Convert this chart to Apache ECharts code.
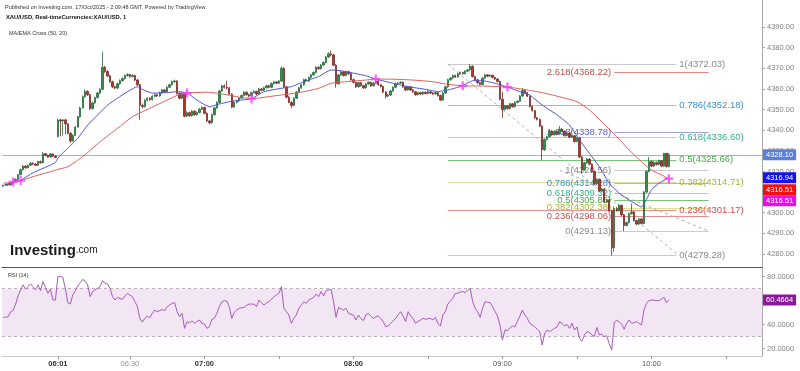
<!DOCTYPE html>
<html>
<head>
<meta charset="utf-8">
<script src="https://cdn.jsdelivr.net/npm/echarts@6.0.0/dist/echarts.min.js"></script>
<style>
  html, body { margin: 0; padding: 0; background: #fff; }
  #chart { width: 800px; height: 371px; }
</style>
</head>
<body>
<div id="chart"></div>
<script>
// XAU/USD 1 min, 05:38 .. 10:07 (no 06:00 bar)
var xLabelTimes = ['06:01', '06:30', '07:00', '08:00', '09:00', '10:00'];
var xTickTimes = ['06:01', '06:30', '07:00', '07:30', '08:00', '08:30', '09:00', '09:30', '10:00', '10:30'];
var boldTimes = ['06:01', '07:00', '08:00'];
var lightTimes = ['06:30'];
var priceTicks = [4280, 4290, 4300, 4310, 4320, 4330, 4340, 4350, 4360, 4370, 4380, 4390];
var rsiTicks = [20, 40, 60, 80];

var lastPrice = 4328.10;
var emaLast = 4316.94;
var maLast = 4316.51;
var rsiLast = 60.4664;

// [open, close, low, high]
var candles = [
  [4312.9,4313.2,4312.6,4313.5],[4313.2,4313.8,4313.0,4314.1],[4313.8,4313.4,4313.0,4314.0],[4313.4,4314.3,4313.2,4314.6],[4314.3,4315.0,4314.0,4315.4],
  [4315.0,4316.2,4314.8,4316.6],[4316.2,4318.4,4316.0,4318.8],[4318.4,4320.8,4318.2,4321.3],[4320.8,4322.6,4320.5,4323.1],[4322.6,4321.8,4321.3,4323.0],
  [4321.8,4323.0,4321.5,4323.4],[4323.0,4324.0,4322.7,4324.5],[4324.0,4323.6,4323.1,4324.4],[4323.6,4323.0,4322.6,4324.0],[4323.0,4324.8,4322.8,4325.2],
  [4324.8,4324.2,4323.8,4325.3],[4324.2,4328.6,4324.0,4329.5],[4328.6,4327.8,4327.3,4329.0],[4327.8,4327.0,4326.6,4328.2],[4327.0,4328.5,4326.8,4329.0],
  [4328.5,4327.4,4327.0,4328.8],[4327.4,4326.8,4326.4,4327.8],[4337.0,4345.0,4336.5,4345.5],[4345.0,4344.5,4337.0,4345.5],[4344.5,4345.0,4337.5,4345.4],
  [4345.0,4343.0,4338.0,4345.5],[4343.0,4338.5,4338.0,4343.4],[4338.5,4334.8,4333.8,4339.0],[4334.8,4337.5,4334.4,4338.0],[4337.5,4341.5,4337.2,4342.0],
  [4341.5,4346.5,4341.2,4347.0],[4346.5,4350.8,4346.0,4351.4],[4350.8,4356.2,4350.5,4356.8],[4356.2,4358.8,4355.8,4359.8],[4358.8,4357.2,4356.6,4359.4],
  [4357.2,4350.5,4349.6,4357.6],[4350.5,4353.2,4350.0,4353.8],[4353.2,4355.8,4352.8,4356.3],[4355.8,4358.0,4355.4,4358.6],[4358.0,4359.8,4357.5,4360.4],
  [4359.8,4370.5,4359.4,4378.0],[4370.5,4368.5,4367.8,4371.2],[4368.5,4366.3,4365.8,4369.0],[4366.3,4363.5,4363.0,4366.8],[4363.5,4361.0,4360.4,4364.0],
  [4361.0,4360.4,4359.8,4361.6],[4360.4,4362.5,4360.0,4363.0],[4362.5,4364.0,4362.0,4364.6],[4364.0,4365.0,4363.6,4365.6],[4365.0,4366.5,4364.6,4367.0],
  [4366.5,4367.0,4366.0,4367.6],[4367.0,4366.0,4365.5,4367.4],[4366.0,4366.5,4365.6,4367.2],[4366.5,4364.3,4363.8,4366.9],[4364.3,4362.0,4361.4,4364.8],
  [4362.0,4352.0,4345.0,4362.4],[4352.0,4351.5,4350.6,4353.0],[4351.5,4354.5,4351.0,4355.0],[4354.5,4355.5,4354.0,4356.0],[4355.5,4354.8,4354.2,4356.0],
  [4354.8,4356.5,4354.4,4357.0],[4356.5,4357.2,4356.0,4357.8],[4357.2,4356.6,4356.1,4357.6],[4356.6,4358.2,4356.2,4358.7],[4358.2,4359.5,4357.8,4360.0],
  [4359.5,4358.6,4358.1,4360.0],[4358.6,4360.8,4358.3,4361.3],[4360.8,4362.0,4360.4,4362.6],[4362.0,4363.5,4361.6,4364.0],[4363.5,4363.8,4363.0,4364.5],
  [4363.8,4357.8,4357.3,4364.2],[4357.8,4355.5,4355.0,4358.3],[4355.5,4358.0,4355.0,4358.6],[4358.0,4346.8,4346.2,4358.4],[4346.8,4348.5,4346.4,4349.2],
  [4348.5,4347.0,4346.5,4349.0],[4347.0,4349.2,4346.6,4349.8],[4349.2,4347.5,4347.0,4349.6],[4347.5,4348.6,4347.1,4349.1],[4348.6,4350.2,4348.2,4350.8],
  [4350.2,4351.0,4349.8,4351.6],[4351.0,4348.2,4347.7,4351.4],[4348.2,4344.5,4344.0,4348.6],[4344.5,4343.6,4342.8,4345.0],[4343.6,4347.5,4343.2,4348.0],
  [4347.5,4350.8,4347.1,4351.3],[4350.8,4353.4,4350.4,4354.0],[4353.4,4359.0,4353.0,4359.6],[4359.0,4361.5,4358.6,4362.0],[4361.5,4360.8,4360.2,4362.2],
  [4360.8,4360.5,4359.8,4364.0],[4360.5,4357.5,4357.0,4361.0],[4357.5,4351.2,4350.6,4357.9],[4351.2,4353.5,4350.8,4354.0],[4353.5,4354.2,4353.0,4354.8],
  [4354.2,4355.5,4353.8,4356.0],[4355.5,4356.8,4355.1,4357.3],[4356.8,4358.4,4356.4,4358.9],[4358.4,4357.2,4356.7,4358.8],[4357.2,4356.6,4356.0,4357.7],
  [4356.6,4358.2,4356.2,4358.7],[4358.2,4358.8,4357.8,4359.4],[4358.8,4357.5,4357.0,4359.2],[4357.5,4360.0,4357.2,4360.5],[4360.0,4359.4,4358.9,4360.4],
  [4359.4,4360.6,4359.0,4361.1],[4360.6,4361.5,4360.2,4362.0],[4361.5,4360.8,4360.3,4362.0],[4360.8,4362.6,4360.4,4363.1],[4362.6,4363.4,4362.2,4363.9],
  [4363.4,4362.8,4362.3,4363.8],[4362.8,4363.8,4362.4,4364.3],[4363.8,4370.0,4363.4,4370.8],[4370.0,4361.0,4360.5,4370.4],[4361.0,4356.0,4355.5,4361.4],
  [4356.0,4353.5,4353.0,4356.5],[4353.5,4352.0,4350.6,4354.0],[4352.0,4355.5,4351.6,4356.0],[4355.5,4358.5,4355.1,4359.0],[4358.5,4360.5,4358.1,4361.0],
  [4360.5,4362.0,4360.1,4362.5],[4362.0,4364.5,4361.6,4365.0],[4364.5,4363.8,4363.3,4365.0],[4363.8,4365.5,4363.4,4366.0],[4365.5,4366.8,4365.1,4367.3],
  [4366.8,4368.0,4366.4,4368.5],[4368.0,4370.5,4367.6,4371.0],[4370.5,4369.8,4369.3,4371.0],[4369.8,4371.6,4369.4,4372.1],[4371.6,4372.8,4371.2,4373.4],
  [4372.8,4375.5,4372.4,4376.0],[4375.5,4377.0,4375.0,4377.8],[4377.0,4376.5,4375.8,4378.5],[4376.5,4371.5,4371.0,4377.0],[4371.5,4362.5,4360.6,4372.0],
  [4362.5,4366.8,4362.0,4367.3],[4366.8,4368.2,4366.3,4368.8],[4368.2,4366.5,4366.0,4368.6],[4366.5,4368.3,4366.1,4368.8],[4368.3,4367.4,4366.8,4368.8],
  [4367.4,4364.5,4364.0,4367.8],[4364.5,4363.2,4362.7,4365.0],[4363.2,4361.0,4360.4,4363.6],[4361.0,4363.0,4360.6,4363.5],[4363.0,4361.6,4361.1,4363.4],
  [4361.6,4360.5,4360.0,4362.0],[4360.5,4362.4,4360.1,4362.9],[4362.4,4363.2,4362.0,4363.7],[4363.2,4361.5,4361.0,4363.6],[4361.5,4362.8,4361.1,4363.3],
  [4362.8,4363.8,4362.4,4364.4],[4363.8,4362.0,4361.5,4364.2],[4362.0,4361.2,4360.7,4362.5],[4361.2,4358.5,4358.0,4361.6],[4358.5,4356.5,4355.4,4358.9],
  [4356.5,4357.0,4356.0,4357.6],[4357.0,4359.0,4356.6,4359.5],[4359.0,4360.8,4358.6,4361.3],[4360.8,4362.5,4360.4,4363.0],[4362.5,4362.8,4362.0,4363.4],
  [4362.8,4363.2,4362.4,4363.8],[4363.2,4361.0,4360.5,4363.6],[4361.0,4359.5,4359.0,4361.4],[4359.5,4361.0,4359.1,4361.5],[4361.0,4359.5,4359.0,4361.4],
  [4359.5,4358.6,4358.1,4360.0],[4358.6,4357.2,4356.7,4359.0],[4357.2,4358.2,4356.8,4358.7],[4358.2,4357.5,4357.0,4358.6],[4357.5,4358.4,4357.1,4358.9],
  [4358.4,4357.8,4357.3,4358.8],[4357.8,4358.6,4357.4,4360.0],[4358.6,4358.0,4357.5,4359.0],[4358.0,4357.6,4357.1,4358.4],[4357.6,4358.2,4357.2,4358.7],
  [4358.2,4356.8,4356.3,4358.6],[4356.8,4354.6,4354.1,4357.2],[4354.6,4358.0,4354.2,4358.5],[4358.0,4361.0,4357.6,4361.5],[4361.0,4364.4,4360.6,4364.9],
  [4364.4,4365.3,4364.0,4365.8],[4365.3,4366.5,4364.9,4367.0],[4366.5,4365.8,4365.3,4366.9],[4365.8,4367.2,4365.4,4367.7],[4367.2,4368.0,4366.8,4368.5],
  [4368.0,4367.4,4366.9,4368.4],[4367.4,4368.6,4367.0,4369.1],[4368.6,4369.2,4368.2,4369.7],[4369.2,4371.0,4368.8,4372.0],[4371.0,4366.0,4365.5,4371.4],
  [4366.0,4364.4,4363.9,4366.4],[4364.4,4363.0,4362.5,4364.8],[4363.0,4362.2,4361.7,4363.4],[4362.2,4365.2,4361.8,4365.7],[4365.2,4366.8,4364.8,4367.3],
  [4366.8,4366.2,4365.7,4367.2],[4366.2,4366.6,4365.8,4367.1],[4366.6,4365.6,4365.1,4367.0],[4365.6,4364.8,4364.3,4366.0],[4364.8,4363.6,4363.1,4365.2],
  [4363.6,4355.0,4354.5,4364.0],[4355.0,4350.0,4346.0,4358.6],[4350.0,4351.8,4349.6,4352.3],[4351.8,4350.5,4350.0,4352.2],[4350.5,4352.8,4350.1,4353.3],
  [4352.8,4351.4,4350.9,4353.2],[4351.4,4353.5,4351.0,4354.0],[4353.5,4354.0,4353.0,4354.5],[4354.0,4356.6,4353.6,4357.1],[4356.6,4359.2,4356.2,4360.5],
  [4359.2,4358.2,4357.7,4359.6],[4358.2,4356.5,4356.0,4358.6],[4356.5,4351.5,4351.0,4356.9],[4351.5,4349.5,4349.0,4351.9],[4349.5,4346.0,4345.5,4349.9],
  [4346.0,4345.2,4344.7,4346.5],[4345.2,4342.0,4341.5,4345.6],[4342.0,4330.5,4325.6,4342.4],[4330.5,4335.5,4330.0,4336.0],[4335.5,4336.8,4335.0,4337.3],
  [4336.8,4339.6,4336.4,4340.1],[4339.6,4337.8,4337.3,4340.0],[4337.8,4339.4,4337.4,4339.9],[4339.4,4338.2,4337.7,4339.8],[4338.2,4340.5,4337.8,4342.0],
  [4340.5,4339.5,4339.0,4341.0],[4339.5,4337.4,4336.9,4339.9],[4337.4,4338.6,4337.0,4339.1],[4338.6,4336.6,4336.1,4339.0],[4336.6,4337.3,4336.2,4337.8],
  [4337.3,4334.5,4334.0,4337.7],[4334.5,4336.2,4334.1,4336.7],[4336.2,4327.0,4326.5,4336.6],[4327.0,4320.8,4318.9,4327.4],[4320.8,4324.2,4320.4,4324.7],
  [4324.2,4326.0,4323.8,4326.5],[4326.0,4323.5,4323.0,4326.4],[4323.5,4320.0,4319.5,4323.9],[4320.0,4314.0,4313.5,4320.4],[4314.0,4316.2,4313.6,4316.7],
  [4316.2,4310.5,4310.0,4316.6],[4310.5,4311.5,4310.1,4312.0],[4311.5,4305.2,4304.7,4311.9],[4305.2,4306.3,4304.8,4306.8],[4306.3,4301.0,4300.5,4306.7],
  [4301.0,4283.0,4279.3,4301.4],[4283.0,4302.0,4281.0,4303.0],[4302.0,4301.0,4300.5,4302.8],[4301.0,4303.6,4300.6,4304.1],[4303.6,4299.0,4298.5,4304.0],
  [4299.0,4293.8,4291.1,4299.4],[4293.8,4295.2,4293.4,4295.7],[4295.2,4299.5,4294.8,4300.0],[4299.5,4300.4,4299.1,4304.5],[4300.4,4296.2,4295.7,4300.8],
  [4296.2,4294.5,4294.0,4296.6],[4294.5,4297.0,4294.1,4297.5],[4297.0,4294.8,4294.3,4297.4],[4294.8,4310.0,4294.4,4310.5],[4310.0,4320.0,4309.6,4320.5],
  [4320.0,4324.8,4319.6,4327.0],[4324.8,4322.6,4322.1,4325.2],[4322.6,4324.4,4322.2,4324.9],[4324.4,4323.4,4322.9,4324.8],[4323.4,4325.2,4323.0,4325.7],
  [4325.2,4322.6,4322.1,4325.6],[4322.6,4328.8,4322.2,4328.9],[4328.8,4322.4,4321.9,4329.0],[4322.4,4328.1,4322.0,4328.9]
];

// [bar index, value]
var emaPoints = [
  [0,4313.3],[3,4314.4],[4,4314.9],[7,4315.7],[12,4319.4],[19,4323.1],[21,4324.4],[22,4326.4],[24,4329],[26,4331.2],
  [30,4336.1],[34,4342.5],[38,4347.4],[42,4352.2],[46,4355.5],[50,4358.7],[54,4361.1],[56,4359.8],[60,4358],[66,4358.2],
  [70,4358.7],[74,4358],[79,4353.8],[83,4351.4],[87,4352.7],[91,4353.8],[95,4354.5],[100,4355.3],[105,4358.7],[112,4360.3],
  [116,4361.1],[121,4363.5],[127,4366],[132,4369.2],[136,4368.8],[140,4367.9],[146,4366.4],[150,4364.8],[157,4362.7],[163,4361.1],
  [170,4359.8],[175,4358.7],[180,4359.8],[185,4361.5],[189,4364],[193,4364],[199,4362.4],[203,4360.9],[208,4358.7],[212,4357],
  [217,4352.2],[223,4347.4],[228,4342.5],[232,4335.3],[236,4328.8],[240,4322.3],[244,4314.3],[248,4309.4],[252,4306.2],[257,4302.8],
  [259,4306.5],[261,4311.2],[264,4314.3],[268,4316.94]
];
var maPoints = [
  [0,4314.3],[4,4314.9],[7,4315.6],[12,4317.5],[19,4319.9],[22,4321],[26,4322.3],[32,4327.2],[39,4334.4],[46,4340.9],
  [52,4346.5],[59,4350.6],[66,4354.6],[71,4357.4],[74,4358],[82,4358.4],[90,4357.2],[95,4356],[100,4355.3],[109,4356.6],
  [119,4358.2],[127,4360.3],[132,4362.7],[138,4363.5],[146,4364.3],[150,4364.8],[157,4364.7],[165,4364.3],[173,4363.5],[178,4362.4],
  [185,4361.5],[193,4361.4],[203,4360.9],[211,4359.5],[217,4358.2],[224,4356.2],[231,4353.8],[236,4349.8],[241,4344.1],[247,4336.9],
  [252,4330.4],[257,4324.7],[261,4320.7],[265,4318.3],[268,4316.51]
];
var crossPoints = [[4,4314.9],[7,4315.6],[74,4358],[100,4355.3],[150,4364.8],[185,4361.5],[203,4360.9],[268,4316.51]];

var rsiValues = [
  46,46,46.5,50.7,52,57,64,69,73,69.3,
  71.5,73.8,71.5,68.8,73,68.2,75.7,71,66,69.3,
  60.4,60.4,79.9,79.9,79.3,70,58.2,57,64.6,68,
  72,74.9,77.6,76,72.9,63.2,67.4,69,70.1,71.5,
  76.5,74.3,73.8,70,63.2,60.4,62.6,61.5,61,63.8,
  66,64.5,63.2,59,55,45.1,42,45.1,47,45.5,
  49.3,52,50.7,51.5,52.5,51.5,54.9,56.3,57.6,58.2,
  50.7,46.5,49.3,36.8,42.4,41.2,43,41,42.5,43.75,
  41,40.4,36.8,38,44.3,45.1,49.3,54.9,59,59.9,
  59.5,54.9,45.1,50,52,53.5,54,54.3,56,57,
  57,57,54.9,60.4,58,56.3,58,59,61,63.2,
  64.5,66,71.5,53.5,50.7,47.9,41,45,47.9,53.5,
  56,59,57.6,60.4,61.5,62.6,65.4,63.2,67.4,63.8,
  68.2,68.8,69.3,59,46,54.3,53,52,53.5,49.3,
  48.5,47.9,43.75,47.9,45,43.2,47.9,49.3,47,45.1,
  46.5,47,45,42.4,38.2,38.75,41,43,45.1,48,
  50.7,47,42.4,50.7,47,45.1,41,42.5,43.75,45.1,
  44.3,44.8,45.1,43.75,46,41,38.75,47.9,50.7,57,
  59.5,61.8,66,66,67,67.4,66.5,68.75,70.1,59,
  53.5,50.7,46,53.5,59,58.5,58.2,54.9,51,47,
  39.6,27.1,35.4,34.9,37,38.75,38.2,42.4,47,52,
  48,45.1,41,39.5,38.2,36,34,22.9,32.6,35.4,
  34,35.5,36.8,38,42.4,41,38.75,40,36.8,41,
  35.4,38,28.5,26,31.25,34,33.5,31.25,30,37.6,
  31.25,32,29.9,30.5,24,18.75,41.5,43.75,42,40.4,
  36,41,43.75,41,41.5,42.4,41,39.6,52,57.6,
  59.9,60.4,60.2,59.9,59.9,61,62.6,58.2,60.4664
];

// Fibonacci tools
var fib1Levels = [1, 0.786, 0.618, 0.5, 0.382, 0.236, 0];
var fib1Prices = [4372.03, 4352.18, 4336.60, 4325.66, 4314.71, 4301.17, 4279.28];
var fib2Levels = [2.618, 1.618, 1, 0.786, 0.618, 0.5, 0.382, 0.236, 0];
var fib2Prices = [4368.22, 4338.78, 4320.56, 4314.28, 4309.32, 4305.85, 4302.38, 4298.06, 4291.13];
var fib1Span = [179, 271];
var fib2Span = [246, 284];
var fib1Trend = [[179, 4372.03], [272, 4279.28]];
var fib2Trend = [[224, 4320.56], [284, 4291.13]];

var fibColors = {
  '0': ['#cacaca', '#8a8a8a'],
  '0.236': ['#eb8c8c', '#d94a4a'],
  '0.382': ['#dde292', '#a8b43a'],
  '0.5': ['#78c478', '#4aaa4a'],
  '0.618': ['#9cdac6', '#30b48c'],
  '0.786': ['#8ec0e4', '#3e8fca'],
  '1': ['#cacaca', '#8a8a8a'],
  '1.618': ['#a2a2ea', '#5858d4'],
  '2.618': ['#e68585', '#d04a4a']
};

var FONT = 'Liberation Sans, Arial, sans-serif';

// category labels: one per minute, 06:00 missing
var times = [];
for (var m = 5 * 60 + 38; times.length < 306; m++) {
  if (m === 6 * 60) continue;
  times.push(String(Math.floor(m / 60)).padStart(2, '0') + ':' + String(m % 60).padStart(2, '0'));
}

function fibLines(levels, prices, span, pos) {
  var out = [];
  levels.forEach(function (lv, k) {
    var c = fibColors[String(lv)];
    out.push([
      {
        coord: [times[span[0]], prices[k]],
        lineStyle: { color: c[0], width: 1, type: 'solid' },
        label: {
          show: true, position: pos, distance: 3,
          formatter: lv + '(' + prices[k].toFixed(2) + ')',
          color: c[1], fontSize: 9.5, fontFamily: FONT
        }
      },
      { coord: [times[span[1]], prices[k]] }
    ]);
  });
  return out;
}

function trend(p) {
  return [
    { coord: [times[p[0][0]], p[0][1]], lineStyle: { color: '#b0b0b0', width: 1, type: [3, 3] }, label: { show: false } },
    { coord: [times[p[1][0]], p[1][1]] }
  ];
}

var fibData = fibLines(fib1Levels, fib1Prices, fib1Span, 'end')
  .concat(fibLines(fib2Levels, fib2Prices, fib2Span, 'start'))
  .concat([trend(fib1Trend), trend(fib2Trend)]);

var chart = echarts.init(document.getElementById('chart'), null, { renderer: 'canvas' });

var option = {
  animation: false,
  backgroundColor: '#ffffff',
  textStyle: { fontFamily: FONT },
  grid: [
    { left: 2, right: 38, top: 0, height: 267 },
    { left: 2, right: 38, top: 267, height: 89 }
  ],
  xAxis: [
    {
      type: 'category', gridIndex: 0, data: times,
      axisLine: { show: true, lineStyle: { color: '#555', width: 1 } },
      axisTick: { show: false }, axisLabel: { show: false }, splitLine: { show: false }
    },
    {
      type: 'category', gridIndex: 1, data: times,
      axisLine: { show: true, lineStyle: { color: '#c8c8c8', width: 1 } },
      axisTick: {
        show: true, alignWithLabel: true, length: 3,
        interval: function (i, v) { return xTickTimes.indexOf(v) >= 0; },
        lineStyle: { color: '#999' }
      },
      axisLabel: {
        margin: 4,
        interval: function (i, v) { return xLabelTimes.indexOf(v) >= 0; },
        formatter: function (v) {
          if (boldTimes.indexOf(v) >= 0) return '{b|' + v + '}';
          if (lightTimes.indexOf(v) >= 0) return '{g|' + v + '}';
          return '{n|' + v + '}';
        },
        rich: {
          b: { fontSize: 7.5, fontWeight: 'bold', color: '#333', fontFamily: FONT },
          g: { fontSize: 7.5, color: '#999', fontFamily: FONT },
          n: { fontSize: 7.5, color: '#555', fontFamily: FONT }
        }
      },
      splitLine: { show: false }
    }
  ],
  yAxis: [
    {
      type: 'value', gridIndex: 0, position: 'right', min: 4273.7, max: 4403.1, scale: true,
      axisLine: { show: true, lineStyle: { color: '#a8a8a8' } },
      axisTick: { show: true, length: 3, customValues: priceTicks, lineStyle: { color: '#a8a8a8' } },
      axisLabel: {
        customValues: priceTicks, margin: 5, color: '#808080', fontSize: 7.5, fontFamily: FONT,
        formatter: function (v) { return v.toFixed(2); }
      },
      splitLine: { show: false }
    },
    {
      type: 'value', gridIndex: 1, position: 'right', min: 13.75, max: 87.9,
      axisLine: { show: true, lineStyle: { color: '#a8a8a8' } },
      axisTick: { show: true, length: 3, customValues: rsiTicks, lineStyle: { color: '#a8a8a8' } },
      axisLabel: {
        customValues: rsiTicks, margin: 5, color: '#808080', fontSize: 7.5, fontFamily: FONT,
        formatter: function (v) { return v.toFixed(4); }
      },
      splitLine: { show: false }
    }
  ],
  series: [
    {
      name: 'XAU/USD', type: 'candlestick', xAxisIndex: 0, yAxisIndex: 0, z: 3,
      data: candles, barWidth: 1.9,
      itemStyle: {
        color: '#2f8f4c', color0: '#a83a32',
        borderColor: '#236e3a', borderColor0: '#7e2a24', borderWidth: 0.8
      },
      markLine: {
        silent: true, z: 1, symbol: ['none', 'none'], animation: false,
        data: fibData
      }
    },
    {
      name: 'EMA 20', type: 'line', xAxisIndex: 0, yAxisIndex: 0, z: 4,
      data: emaPoints, showSymbol: false, symbol: 'none', smooth: 0.15,
      lineStyle: { color: '#5252dc', width: 1 },
      // last price line
      markLine: {
        silent: true, z: 1, symbol: ['none', 'none'], animation: false,
        lineStyle: { color: '#9db0ec', width: 1, type: 'solid' },
        label: { show: false },
        emphasis: { disabled: true },
        data: [{ yAxis: lastPrice }]
      }
    },
    {
      name: 'MA 50', type: 'line', xAxisIndex: 0, yAxisIndex: 0, z: 4,
      data: maPoints, showSymbol: false, symbol: 'none', smooth: 0.2,
      lineStyle: { color: '#e25e5e', width: 1 }
    },
    {
      name: 'Cross', type: 'scatter', xAxisIndex: 0, yAxisIndex: 0, z: 5,
      data: crossPoints,
      symbol: 'path://M3,0H5V3H8V5H5V8H3V5H0V3H3Z', symbolSize: 9,
      itemStyle: { color: '#ff3cff' }
    },
    {
      name: 'RSI', type: 'line', xAxisIndex: 1, yAxisIndex: 1, z: 3,
      data: rsiValues, showSymbol: false, symbol: 'none',
      lineStyle: { color: '#a65cb6', width: 1 },
      markArea: {
        silent: true, z: 1,
        itemStyle: { color: '#f3e6f4' },
        data: [[{ yAxis: 30 }, { yAxis: 70 }]]
      },
      markLine: {
        silent: true, z: 2, symbol: ['none', 'none'],
        lineStyle: { color: '#bbb0bb', type: [3, 3], width: 1 },
        label: { show: false },
        data: [{ yAxis: 70 }, { yAxis: 30 }]
      }
    }
  ]
};

chart.setOption(option);

var py = function (v) { return chart.convertToPixel({ yAxisIndex: 0 }, v); };
var ry = function (v) { return chart.convertToPixel({ yAxisIndex: 1 }, v); };

function box(y, text, bg) {
  return {
    type: 'text', x: 763, y: y, z: 100,
    style: {
      text: text, fill: '#fff', backgroundColor: bg, padding: [2, 3, 1, 3],
      fontSize: 7.5, fontFamily: FONT, verticalAlign: 'middle'
    }
  };
}

chart.setOption({
  graphic: [
    { type: 'text', left: 5, top: 4, z: 100, style: { text: 'Published on Investing.com, 17/Oct/2025 - 2:09:48 GMT, Powered by TradingView.', fontSize: 5.5, fill: '#333', fontFamily: FONT } },
    { type: 'text', left: 6, top: 14, z: 100, style: { text: 'XAU/USD, Real-timeCurrencies:XAU/USD, 1', fontSize: 5.8, fontWeight: 'bold', fill: '#111', fontFamily: FONT } },
    { type: 'text', left: 9, top: 30, z: 100, style: { text: 'MA/EMA Cross (50, 20)', fontSize: 5.5, fill: '#333', fontFamily: FONT } },
    { type: 'text', left: 8, top: 272, z: 100, style: { text: 'RSI (14)', fontSize: 5.5, fill: '#333', fontFamily: FONT } },
    {
      type: 'text', left: 10, top: 243, z: 100,
      style: {
        text: '{a|Investing}{b|.com}', fontFamily: FONT,
        rich: {
          a: { fontSize: 15, fontWeight: 'bold', fill: '#1b1b1b', fontFamily: FONT },
          b: { fontSize: 10, fill: '#1b1b1b', fontFamily: FONT }
        }
      }
    },
    box(py(lastPrice), lastPrice.toFixed(2), '#5b7fde'),
    box(py(emaLast), emaLast.toFixed(2), '#1414f0'),
    box(py(maLast) + 11, maLast.toFixed(2), '#f01010'),
    box(py(maLast) + 22, maLast.toFixed(2), '#e810e8'),
    box(ry(rsiLast), rsiLast.toFixed(4), '#8a1a9a')
  ]
});
</script>
</body>
</html>
